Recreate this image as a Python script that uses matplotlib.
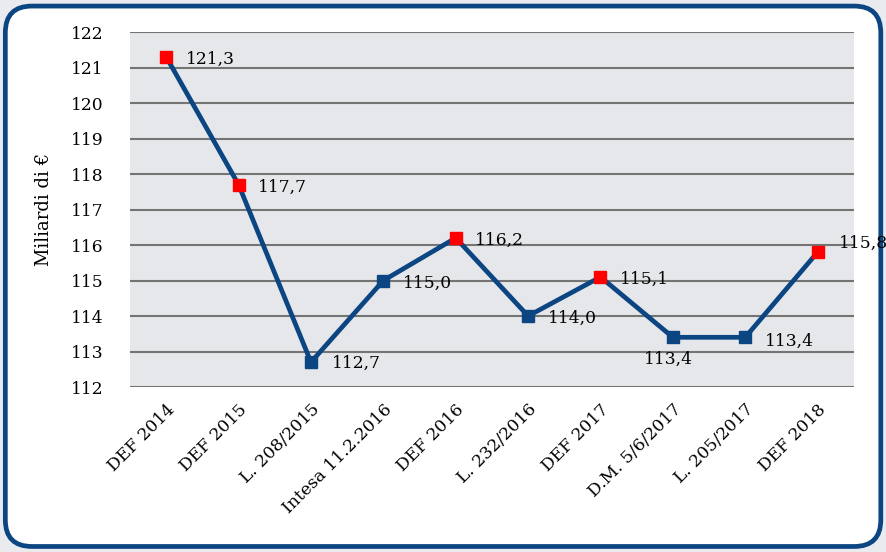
import matplotlib.pyplot as plt
from matplotlib.patches import FancyBboxPatch

categories = ["DEF 2014", "DEF 2015", "L. 208/2015", "Intesa 11.2.2016", "DEF 2016",
              "L. 232/2016", "DEF 2017", "D.M. 5/6/2017", "L. 205/2017", "DEF 2018"]
values = [121.3, 117.7, 112.7, 115.0, 116.2, 114.0, 115.1, 113.4, 113.4, 115.8]
is_def = [True, True, False, False, True, False, True, False, False, True]
# label offsets in points (dx, dy), ha
offsets = [(14, -1.5, "left"), (14, -2, "left"), (15, -1, "left"), (14, -2, "left"), (14, -2, "left"),
           (14, -2, "left"), (14, -2, "left"), (-3, -16, "center"), (14, -3, "left"), (15, 6.5, "left")]

blue = "#0b4582"
plt.rcParams["font.family"] = ["DejaVu Serif"]

fig = plt.figure(figsize=(8.87, 5.52), dpi=100)
fig.patch.set_facecolor("#e9ebee")
frame = FancyBboxPatch((0.006, 0.01), 0.987, 0.979, boxstyle="round,pad=0,rounding_size=0.03",
                       transform=fig.transFigure, facecolor="white", edgecolor=blue,
                       linewidth=3.4, mutation_aspect=887 / 552, zorder=-10)
fig.patches.append(frame)

ax = fig.add_axes([0.1466, 0.2989, 0.816, 0.643])
ax.set_zorder(5)
ax.set_facecolor("#e6e7ea")
x = list(range(len(values)))
ax.plot(x, values, color=blue, linewidth=3.4, zorder=3)
for i, v in enumerate(values):
    ax.plot(i, v, marker="s", markersize=8.3, color="#ff0000" if is_def[i] else blue,
            linestyle="none", zorder=4)
    dx, dy, ha = offsets[i]
    ax.annotate(f"{v:.1f}".replace(".", ","), (i, v), xytext=(dx, dy), textcoords="offset points",
                ha=ha, va="center", fontsize=12.3, color="black")

ax.set_xlim(-0.5, len(values) - 0.5)
ax.set_ylim(112, 122)
ax.set_yticks(range(112, 123))
ax.yaxis.grid(True, color="#747474", linewidth=1.5)
ax.set_axisbelow(True)
for s in ax.spines.values():
    s.set_visible(False)
ax.tick_params(axis="both", length=0, labelsize=12.3)
ax.tick_params(axis="y", pad=19)
ax.tick_params(axis="x", pad=10)
ax.set_xticks(x)
ax.set_xticklabels(categories, rotation=45, ha="right", rotation_mode="anchor")
for lbl in ax.get_xticklabels():
    lbl.set_x(lbl.get_position()[0])
ax.set_ylabel("Miliardi di €", fontsize=13, labelpad=13)

fig.savefig("out.png", dpi=100, facecolor=fig.get_facecolor())
